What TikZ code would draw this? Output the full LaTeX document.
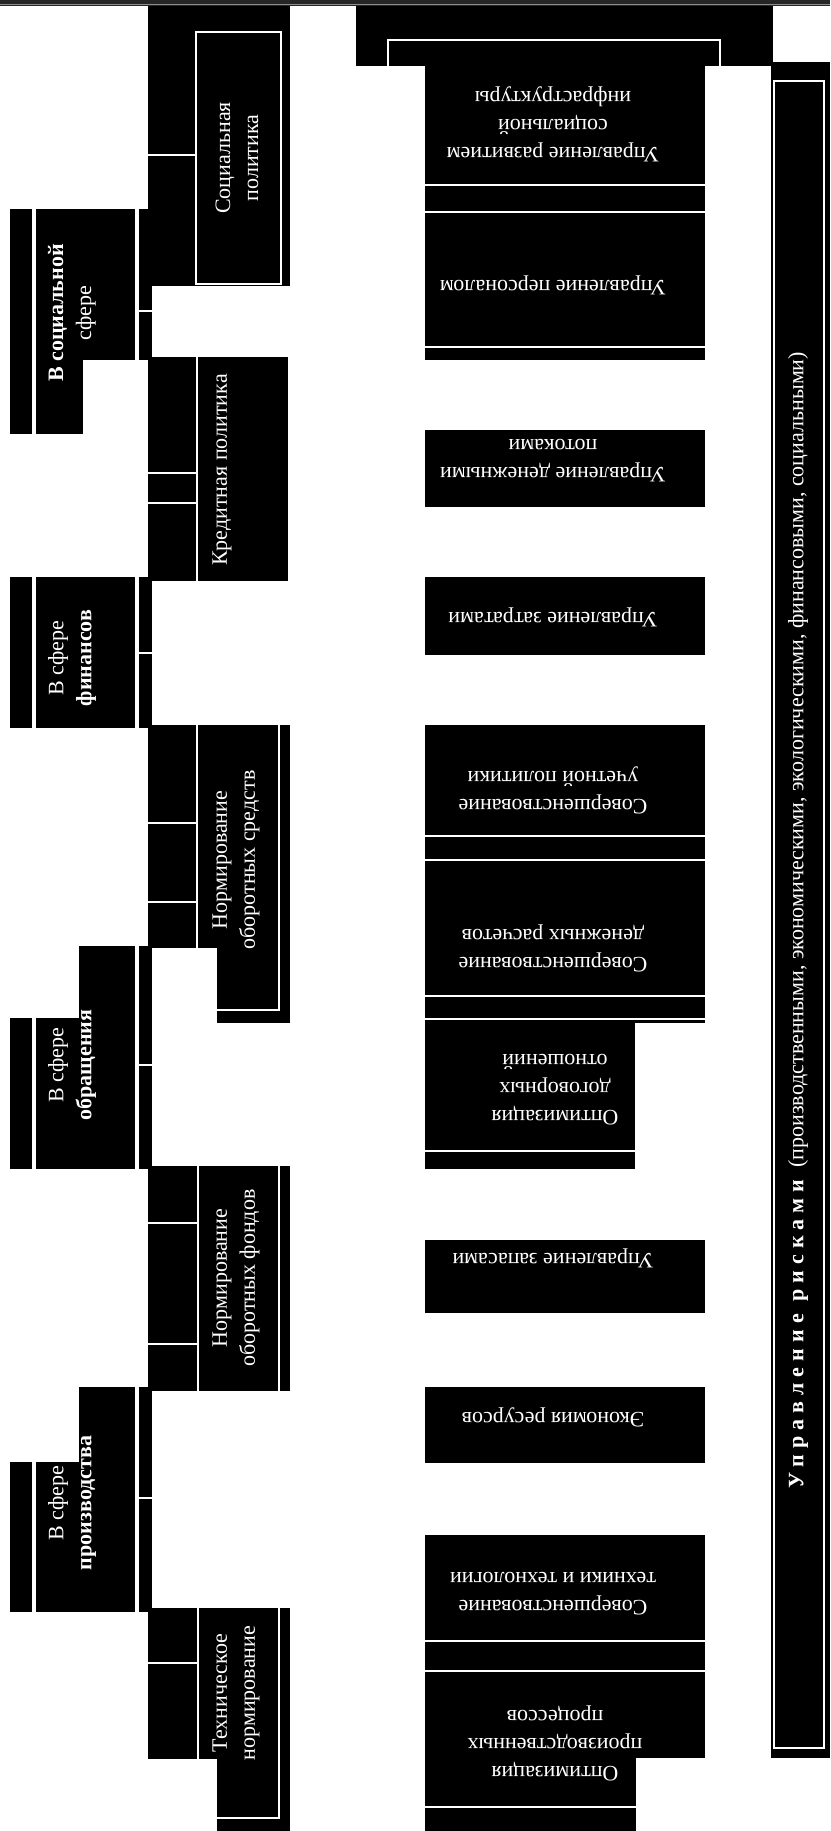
\documentclass[tikz,border=0pt]{standalone}
\usepackage{fontspec}
\setmainfont{Liberation Serif}
\begin{document}
\begin{tikzpicture}[x=1pt,y=-1pt,
  wl/.style={draw=white,line width=2pt},
  txt/.style={text=white,font=\fontsize{22}{28}\selectfont,align=center,inner sep=0pt},
  vtxt/.style={txt,rotate=90},
  utxt/.style={txt,rotate=180}]
\useasboundingbox (0,0) rectangle (830,1831);
\fill[white] (0,0) rectangle (830,1831);
% top band
\fill[black!85] (0,0) rectangle (830,6);
\draw[black!45,line width=1.5pt] (0,4.5) -- (830,4.5);

% ---------- left column ----------
% В социальной сфере
\fill (10,209) rectangle (32,434);
\fill (36,209) rectangle (135,360);
\fill (36,360) rectangle (83,434);
\fill (139,209) rectangle (152,360);
\draw[wl] (139,311) -- (152,311);
% Социальная политика
\fill (148,6) rectangle (290,286);
\draw[wl] (148,155) -- (196,155);
\draw[wl] (196,32) rectangle (281,284);
% Кредитная политика
\fill (148,357) rectangle (288,581);
\draw[wl] (197,357) -- (197,581);
\draw[wl] (148,473) -- (197,473);
\draw[wl] (148,503) -- (197,503);
% В сфере финансов
\fill (10,577) rectangle (32,728);
\fill (36,577) rectangle (135,728);
\fill (139,577) rectangle (152,728);
\draw[wl] (139,653) -- (152,653);
% Нормирование оборотных средств
\fill (148,725) rectangle (290,948);
\fill (217,948) rectangle (290,1023);
\draw[wl] (148,823) -- (197,823);
\draw[wl] (148,902) -- (197,902);
\draw[wl] (197,725) -- (197,948);
\draw[wl] (279,725) -- (279,1010) -- (217,1010);
% В сфере обращения
\fill (10,1018) rectangle (32,1169);
\fill (36,1018) rectangle (135,1169);
\fill (79,946) rectangle (135,1018);
\fill (139,946) rectangle (152,1169);
\draw[wl] (139,1065) -- (152,1065);
% Нормирование оборотных фондов
\fill (148,1166) rectangle (290,1391);
\draw[wl] (148,1223) -- (197,1223);
\draw[wl] (148,1344) -- (197,1344);
\draw[wl] (198,1166) -- (198,1391);
\draw[wl] (279,1166) -- (279,1391);
% В сфере производства
\fill (79,1387) rectangle (135,1462);
\fill (10,1462) rectangle (32,1612);
\fill (36,1462) rectangle (135,1612);
\fill (139,1387) rectangle (152,1612);
\draw[wl] (139,1498) -- (152,1498);
% Техническое нормирование
\fill (148,1608) rectangle (290,1759);
\fill (217,1759) rectangle (290,1831);
\draw[wl] (148,1663) -- (197,1663);
\draw[wl] (198,1608) -- (198,1759);
\draw[wl] (279,1608) -- (279,1818) -- (217,1818);

% ---------- middle column ----------
\fill (356,6) rectangle (773,66);
\draw[wl] (388,66) -- (388,40) -- (720,40) -- (720,66);
\fill (425,66) rectangle (705,360);
\draw[wl] (425,184.5) -- (705,184.5);
\draw[wl] (425,211.5) -- (705,211.5);
\draw[wl] (425,347) -- (705,347);
\fill (425,430) rectangle (705,507);
\fill (425,577) rectangle (705,655);
\fill (425,725) rectangle (705,1023);
\fill (425,1023) rectangle (635,1169);
\draw[wl] (425,835.5) -- (705,835.5);
\draw[wl] (425,859.5) -- (705,859.5);
\draw[wl] (425,995.5) -- (705,995.5);
\draw[wl] (425,1018.5) -- (705,1018.5);
\draw[wl] (425,1151) -- (635,1151);
\fill (425,1240) rectangle (705,1313);
\fill (425,1387) rectangle (705,1463);
\fill (425,1535) rectangle (705,1758);
\fill (425,1758) rectangle (636,1831);
\draw[wl] (425,1641) -- (705,1641);
\draw[wl] (425,1671) -- (705,1671);
\draw[wl] (425,1807) -- (636,1807);

% ---------- right column ----------
\fill (771,62) rectangle (830,1758);
\draw[wl] (774,81) rectangle (824,1748);

% ---------- texts ----------
\node[vtxt] (tsocial) at (72,313) {\textbf{В социальной}\\сфере};
\node[vtxt] (tsocpol) at (237,158) {Социальная\\политика};
\node[vtxt] (tkred) at (222,470) {Кредитная политика};
\node[vtxt] (tfin) at (72,658) {В сфере\\\textbf{финансов}};
\node[vtxt] (tnorm1) at (236,860) {Нормирование\\оборотных средств};
\node[vtxt] (tobr) at (72,1065) {В сфере\\\textbf{обращения}};
\node[vtxt] (tnorm2) at (236,1278) {Нормирование\\оборотных фондов};
\node[vtxt] (tprod) at (72,1503) {В сфере\\\textbf{производства}};
\node[vtxt] (ttech) at (236,1693) {Техническое\\нормирование};

\node[utxt] (m1) at (553,124.5) {Управление развитием\\социальной\\инфраструктуры};
\node[utxt] (m2) at (553,285) {Управление персоналом};
\node[utxt] (m3) at (553,461) {Управление денежными\\потоками};
\node[utxt] (m4) at (553,617) {Управление затратами};
\node[utxt] (m5) at (553,790) {Совершенствование\\учетной политики};
\node[utxt] (m6) at (553,948) {Совершенствование\\денежных расчетов};
\node[utxt] (m7) at (555,1090) {Оптимизация\\договорных\\отношений};
\node[utxt] (m8) at (553,1258) {Управление запасами};
\node[utxt] (m9) at (553,1417) {Экономия ресурсов};
\node[utxt] (m10) at (553,1594) {Совершенствование\\техники и технологии};
\node[utxt] (m11) at (555,1743) {Оптимизация\\производственных\\процессов};

\node[vtxt] (risk) at (798,920) {\textbf{\addfontfeature{LetterSpace=28}Управление рисками} (производственными, экономическими, экологическими, финансовыми, социальными)};
\end{tikzpicture}
\end{document}
